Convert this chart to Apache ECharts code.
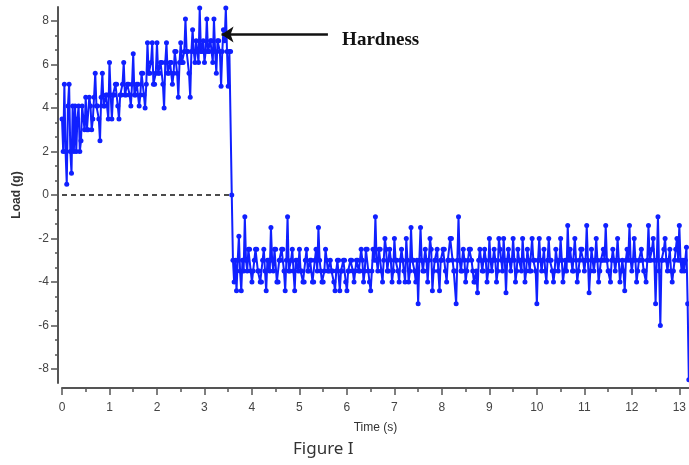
<!DOCTYPE html>
<html><head><meta charset="utf-8">
<script src="https://cdn.jsdelivr.net/npm/echarts@6/dist/echarts.min.js"></script>
<style>html,body{margin:0;padding:0;background:#fff}#c{width:689px;height:465px}</style>
</head><body><div id="c"></div>
<script>
// seconds between readings
const sampleStep = 0.025;
// load readings (g), one per sample, 20 per row (0.5 s per row)
const loadValues = [
  3.5, 2.0, 5.1, 2.0, 0.5, 4.1, 5.1, 2.0, 1.0, 4.1, 2.0, 4.1, 2.0, 3.5, 4.1, 2.0, 2.5, 4.1, 3.5, 3.0,
  4.5, 3.0, 3.0, 4.5, 4.1, 3.0, 3.5, 4.5, 5.6, 4.1, 4.1, 3.5, 2.5, 4.5, 5.6, 4.1, 4.1, 4.6, 4.6, 3.5,
  6.1, 4.6, 3.5, 4.6, 4.6, 5.1, 5.1, 4.1, 3.5, 4.6, 4.6, 5.1, 6.1, 4.6, 4.6, 5.1, 5.1, 4.6, 4.1, 5.1,
  6.5, 4.6, 4.6, 5.1, 5.1, 4.1, 4.6, 5.6, 5.6, 4.6, 4.0, 5.1, 7.0, 5.6, 5.6, 6.1, 7.0, 5.1, 5.1, 5.6,
  7.0, 5.6, 5.6, 6.1, 6.1, 5.1, 4.0, 6.1, 7.0, 5.6, 5.6, 6.1, 6.1, 5.1, 5.6, 6.6, 6.6, 5.6, 4.5, 6.1,
  7.0, 6.1, 6.1, 6.6, 8.1, 6.6, 6.6, 5.6, 4.5, 6.6, 7.6, 6.6, 6.1, 7.1, 6.6, 6.1, 8.6, 6.6, 6.6, 7.1,
  6.1, 6.6, 8.1, 6.6, 6.6, 7.1, 7.1, 6.1, 8.1, 6.6, 5.6, 7.1, 7.1, 6.6, 5.0, 6.6, 7.6, 7.1, 8.6, 6.6,
  5.0, 6.6, 6.6, 0.0, -3.0, -4.0, -3.0, -4.4, -3.0, -1.9, -3.5, -4.4, -3.0, -3.5, -1.0, -3.0, -3.5, -2.5, -2.5, -3.5,
  -4.0, -3.5, -3.0, -2.5, -2.5, -3.5, -3.5, -4.0, -4.0, -3.0, -2.5, -3.5, -4.4, -3.0, -3.0, -3.5, -1.5, -3.0, -3.5, -2.5,
  -2.5, -4.0, -4.0, -3.0, -3.0, -2.5, -2.5, -3.5, -4.4, -3.0, -1.0, -3.5, -3.5, -3.0, -2.5, -3.5, -4.4, -3.0, -3.0, -3.5,
  -2.5, -3.5, -3.5, -4.0, -4.0, -3.0, -2.5, -3.5, -3.5, -3.0, -3.0, -4.0, -4.0, -3.0, -2.5, -3.5, -1.5, -3.0, -3.5, -4.0,
  -4.0, -3.5, -2.5, -3.0, -3.5, -3.5, -3.0, -3.5, -3.5, -4.0, -4.4, -3.5, -3.0, -3.0, -4.4, -3.5, -3.5, -3.0, -3.0, -4.0,
  -4.4, -3.5, -3.5, -3.0, -3.0, -3.5, -4.0, -3.5, -3.0, -3.0, -3.5, -3.5, -2.5, -3.0, -4.0, -3.5, -2.5, -2.5, -3.5, -4.0,
  -4.4, -3.5, -2.5, -3.0, -1.0, -3.0, -3.5, -2.5, -2.5, -3.5, -4.0, -3.0, -2.0, -2.5, -3.5, -3.5, -2.5, -3.0, -4.0, -3.5,
  -2.0, -3.0, -3.0, -3.5, -4.0, -3.0, -2.5, -3.0, -3.5, -4.0, -2.0, -3.0, -4.0, -3.5, -1.5, -3.0, -3.0, -3.5, -4.0, -3.0,
  -5.0, -3.0, -1.5, -3.0, -3.5, -3.5, -2.5, -3.0, -4.0, -3.0, -2.0, -2.5, -4.4, -3.5, -3.0, -3.0, -2.5, -3.5, -4.4, -3.0,
  -3.0, -2.5, -2.5, -3.5, -4.0, -3.0, -3.0, -2.0, -2.0, -3.0, -3.5, -3.5, -5.0, -3.0, -1.0, -3.0, -3.5, -3.5, -2.5, -3.0,
  -4.0, -3.5, -3.0, -2.5, -2.5, -3.0, -3.5, -4.0, -4.0, -3.5, -4.5, -3.0, -2.5, -3.0, -3.5, -3.5, -2.5, -3.0, -4.0, -3.5,
  -2.0, -3.0, -3.5, -3.0, -2.5, -3.0, -4.0, -3.5, -2.0, -2.5, -3.0, -3.5, -2.0, -3.0, -4.5, -3.0, -2.5, -3.0, -3.5, -3.0,
  -2.0, -3.0, -4.0, -3.5, -2.5, -3.0, -3.0, -3.5, -2.0, -3.0, -4.0, -3.5, -2.5, -3.0, -3.5, -3.5, -2.0, -3.0, -3.0, -3.5,
  -5.0, -3.0, -2.0, -3.0, -3.5, -3.0, -2.5, -3.5, -4.0, -3.0, -2.0, -3.0, -3.0, -3.5, -4.0, -3.5, -2.5, -3.0, -3.5, -3.0,
  -2.0, -3.0, -4.0, -3.5, -3.0, -3.5, -1.4, -3.0, -2.5, -3.0, -3.5, -3.5, -2.0, -3.0, -4.0, -3.5, -3.0, -2.5, -2.5, -3.0,
  -3.5, -3.0, -1.4, -3.0, -4.5, -3.5, -2.5, -3.0, -3.5, -3.0, -2.0, -3.0, -4.0, -3.5, -3.0, -3.0, -2.5, -3.0, -1.4, -3.0,
  -3.5, -3.5, -4.0, -3.0, -2.5, -3.0, -3.5, -3.0, -2.0, -3.0, -4.0, -3.5, -3.0, -3.5, -4.4, -3.0, -2.5, -3.0, -1.4, -3.0,
  -3.5, -3.0, -2.0, -3.0, -4.0, -3.5, -3.0, -3.0, -2.5, -3.0, -3.5, -3.5, -4.0, -3.0, -1.4, -3.0, -3.0, -2.5, -2.0, -3.0,
  -5.0, -3.0, -1.0, -3.5, -6.0, -3.0, -3.0, -2.5, -2.0, -3.0, -3.5, -3.0, -2.5, -3.5, -4.0, -3.5, -3.0, -2.5, -2.0, -3.0,
  -1.4, -3.0, -3.5, -3.0, -3.5, -3.0, -2.4, -5.0, -8.5
];
// zero reference (dashed) before the drop
const baselineTimes = [0, 3.575];
const baselineValues = [0, 0];
// tick labels
const xTicks = [0,1,2,3,4,5,6,7,8,9,10,11,12,13];
const yTicks = [-8,-6,-4,-2,0,2,4,6,8];
const annotationText = 'Hardness';

const times = loadValues.map((_, i) => +(i * sampleStep).toFixed(3));
const loadData = times.map((t, i) => [t, loadValues[i]]);
const baselineData = baselineTimes.map((t, i) => [t, baselineValues[i]]);
const xMinor = xTicks.slice(0, -1).map(v => v + 0.5);
const yMinor = [];
yTicks.slice(0, -1).forEach(v => { yMinor.push(v + 2/3, v + 4/3); });

const lblFont = '"Liberation Sans Narrow", "Liberation Sans", Arial, sans-serif';
const axisCol = '#555';

const chart = echarts.init(document.getElementById('c'), null, {renderer: 'canvas'});
chart.setOption({
  animation: false,
  backgroundColor: '#fff',
  title: {
    text: 'Figure I', left: 293, top: 441, padding: 0,
    textStyle: {fontFamily: '"Noto Sans", sans-serif', fontSize: 17, fontWeight: 'normal', color: '#333'}
  },
  grid: {left: 62, right: 0, top: 7, bottom: 82},
  xAxis: [{
    type: 'value', min: 0, max: 13.2, offset: 5,
    name: 'Time (s)', nameLocation: 'middle', nameGap: 34,
    nameTextStyle: {fontFamily: lblFont, fontSize: 12, color: '#333'},
    axisLine: {onZero: false, lineStyle: {color: axisCol, width: 2}},
    axisTick: {customValues: xTicks, length: 7, lineStyle: {color: axisCol, width: 1.5}},
    axisLabel: {customValues: xTicks, margin: 14, fontFamily: lblFont, fontSize: 12, color: '#444'},
    splitLine: {show: false}
  }, {
    type: 'value', min: 0, max: 13.2, offset: 5, position: 'bottom',
    axisLine: {show: false, onZero: false},
    axisTick: {customValues: xMinor, length: 4, lineStyle: {color: axisCol, width: 1.5}},
    axisLabel: {show: false}, splitLine: {show: false}
  }],
  yAxis: [{
    type: 'value', min: -8.65, max: 8.65, offset: 4,
    name: 'Load (g)', nameLocation: 'middle', nameGap: 35,
    nameTextStyle: {fontFamily: lblFont, fontSize: 12, color: '#333', fontWeight: 'bold'},
    axisLine: {onZero: false, lineStyle: {color: axisCol, width: 2}},
    axisTick: {customValues: yTicks, length: 7, lineStyle: {color: axisCol, width: 1.5}},
    axisLabel: {customValues: yTicks, margin: 9, fontFamily: lblFont, fontSize: 12, color: '#444'},
    splitLine: {show: false}
  }, {
    type: 'value', min: -8.65, max: 8.65, offset: 4, position: 'left',
    axisLine: {show: false, onZero: false},
    axisTick: {customValues: yMinor, length: 3, lineStyle: {color: axisCol, width: 1.5}},
    axisLabel: {show: false}, splitLine: {show: false}
  }],
  series: [{
    type: 'line', data: baselineData, symbol: 'none', z: 1,
    lineStyle: {color: '#111', width: 1.6, type: [5, 4]},
    markLine: {
      silent: true, symbol: ['none', 'arrow'], symbolSize: 12,
      lineStyle: {color: '#111', width: 2.5, type: 'solid'},
      label: {show: false},
      data: [[{coord: [5.6, 7.39]}, {coord: [3.36, 7.39]}]]
    },
    markPoint: {
      silent: true, symbol: 'circle', symbolSize: 1,
      itemStyle: {color: 'rgba(0,0,0,0)'},
      label: {show: true, position: 'inside', formatter: annotationText,
        fontFamily: '"Liberation Serif", "Times New Roman", serif', fontWeight: 'bold', fontSize: 19, color: '#111'},
      data: [{coord: [6.71, 7.15]}]
    }
  }, {
    type: 'line', data: loadData, z: 3,
    symbol: 'circle', symbolSize: 5, showAllSymbol: true,
    lineStyle: {color: '#1020ff', width: 2},
    itemStyle: {color: '#1020ff'}
  }]
});
</script>
</body></html>
